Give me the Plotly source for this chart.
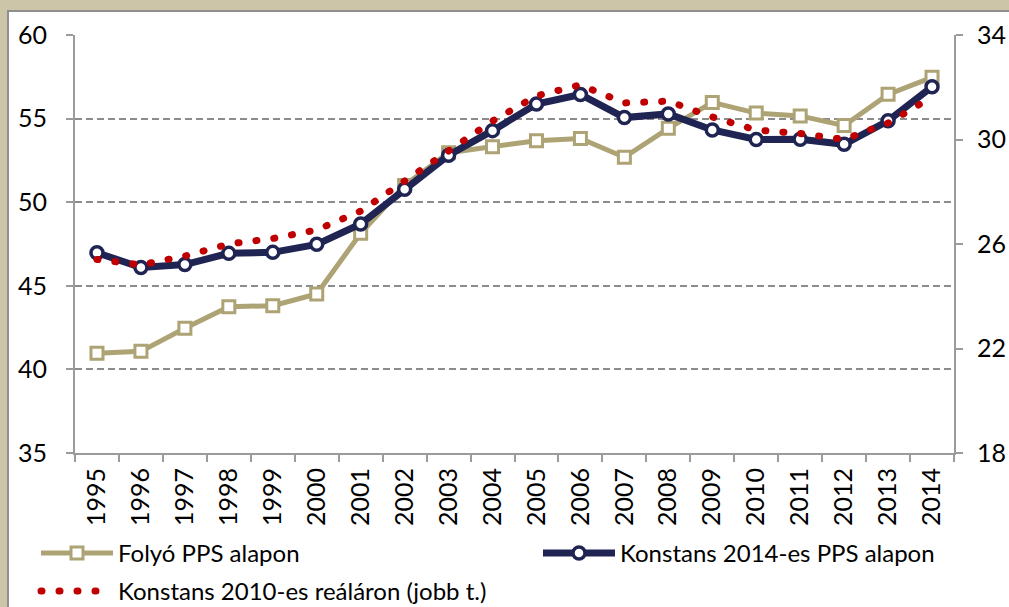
import plotly.graph_objects as go

# ---------------- data ----------------
years = [str(y) for y in range(1995, 2015)]
folyo_pps = [40.96, 41.08, 42.46, 43.75, 43.81, 44.51, 48.14, 51.0, 52.96, 53.32,
             53.68, 53.81, 52.69, 54.42, 55.97, 55.33, 55.16, 54.58, 56.45, 57.47]
konst_2014_pps = [46.98, 46.09, 46.27, 46.94, 47.0, 47.48, 48.70, 50.77, 52.81, 54.28,
                  55.87, 56.44, 55.06, 55.28, 54.32, 53.75, 53.76, 53.46, 54.87, 56.91]
konst_2010_real = [25.41, 25.2, 25.54, 26.0, 26.21, 26.54, 27.26, 28.41, 29.64, 30.71,
                   31.67, 32.09, 31.4, 31.47, 30.86, 30.36, 30.23, 30.0, 30.63, 31.63]
series_names = ["Folyó PPS alapon", "Konstans 2014-es PPS alapon",
                "Konstans 2010-es reáláron (jobb t.)"]

# ---------------- style ----------------
W, H = 1009, 607
ML, MR, MT, MB = 75, 55, 35, 154
PW, PH = W - ML - MR, H - MT - MB
TAN = "#ADA374"
NAVY = "#1F2453"
RED = "#C00000"
GRID = "#8C8C8C"
AXIS = "#9B9B9B"
BEIGE = "#CDC5A8"
FONT = "Lato"
TICK_SIZE = 25
LEG_SIZE = 24


def px_x(px):
    return (px - ML) / PW


def px_y(py):
    return (H - MB - py) / PH


fig = go.Figure()
fig.add_trace(go.Scatter(
    x=years, y=folyo_pps, name=series_names[0], mode="lines+markers", legend="legend",
    line=dict(color=TAN, width=5),
    marker=dict(symbol="square", size=12, color="white", line=dict(color=TAN, width=3)),
))
fig.add_trace(go.Scatter(
    x=years, y=konst_2014_pps, name=series_names[1], mode="lines+markers", legend="legend2",
    line=dict(color=NAVY, width=7),
    marker=dict(symbol="circle", size=12, color="white", line=dict(color=NAVY, width=3.5)),
))
fig.add_trace(go.Scatter(
    x=years, y=konst_2010_real, name=series_names[2], mode="lines", yaxis="y2",
    legend="legend3",
    line=dict(color=RED, width=7, dash="1px,17px"),
))

# outer frame: beige page with white chart box
fig.add_shape(type="rect", xref="paper", yref="paper",
              x0=px_x(8), x1=px_x(1020), y0=px_y(620), y1=px_y(11),
              fillcolor="white", line=dict(color="#8F8F8F", width=2), layer="below")

leg_common = dict(
    orientation="v", xanchor="left", yanchor="top", itemwidth=72,
    font=dict(family=FONT, size=LEG_SIZE, color="black"),
    bgcolor="rgba(0,0,0,0)",
)

fig.update_layout(
    width=W, height=H,
    margin=dict(l=ML, r=MR, t=MT, b=MB, autoexpand=False),
    paper_bgcolor=BEIGE, plot_bgcolor="white",
    font=dict(family=FONT, size=TICK_SIZE, color="black"),
    showlegend=True,
    legend=dict(x=px_x(36), y=px_y(531), **leg_common),
    legend2=dict(x=px_x(538), y=px_y(531), **leg_common),
    legend3=dict(x=px_x(36), y=px_y(569), **leg_common),
    xaxis=dict(
        type="category", range=[-0.5, len(years) - 0.5], tickangle=-90, showgrid=False,
        showline=True, linecolor=AXIS, linewidth=2,
        ticks="outside", tickson="boundaries", ticklen=7, tickcolor=AXIS, tickwidth=2,
        tickfont=dict(family=FONT, size=TICK_SIZE), ticklabelstandoff=3,
    ),
    yaxis=dict(
        range=[35, 60], dtick=5, tick0=35,
        showgrid=True, gridcolor=GRID, gridwidth=1.5, griddash="7px,4px",
        showline=True, linecolor=AXIS, linewidth=2,
        ticks="outside", ticklen=7, tickcolor=AXIS, tickwidth=2,
        tickfont=dict(family=FONT, size=TICK_SIZE), ticklabelstandoff=14,
        zeroline=False,
    ),
    yaxis2=dict(
        range=[18, 34], dtick=4, tick0=18, overlaying="y", side="right",
        showgrid=False, showline=True, linecolor=AXIS, linewidth=2,
        ticks="outside", ticklen=7, tickcolor=AXIS, tickwidth=2,
        tickfont=dict(family=FONT, size=TICK_SIZE), ticklabelstandoff=9,
        zeroline=False,
    ),
)

post = """
document.body.style.margin = '0';
document.body.style.padding = '0';
var gd = document.getElementById('{plot_id}');
function roundDots(){
  gd.querySelectorAll('path').forEach(function(p){
    var d = (p.style.strokeDasharray || '').replace(/\\s/g, '');
    if (d.indexOf('1px,17px') === 0) { p.style.strokeLinecap = 'round'; }
  });
}
roundDots();
if (gd.on) { gd.on('plotly_afterplot', roundDots); }
"""

fig.write_html("out.html", post_script=post, config={"displayModeBar": False})
